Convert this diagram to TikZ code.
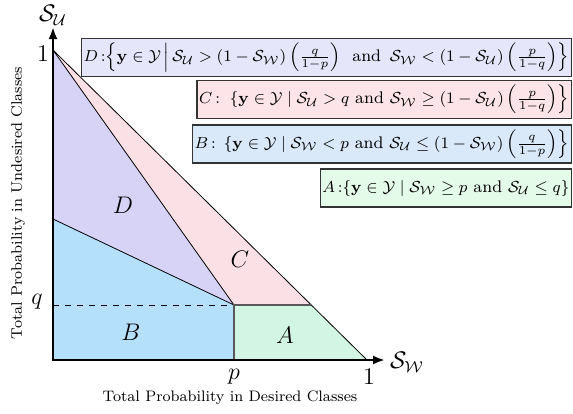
\documentclass[tikz,border=0pt]{standalone}
\usepackage{amsmath}
\usetikzlibrary{arrows.meta}
\definecolor{regD}{RGB}{214,211,247}
\definecolor{regC}{RGB}{251,224,230}
\definecolor{regB}{RGB}{180,224,252}
\definecolor{regA}{RGB}{210,245,228}
\definecolor{boxD}{RGB}{230,230,250}
\definecolor{boxC}{RGB}{252,228,232}
\definecolor{boxB}{RGB}{217,233,250}
\definecolor{boxA}{RGB}{228,251,233}
\begin{document}
\begin{tikzpicture}[x=0.5pt,y=-0.5pt,
  bound/.style={line width=0.4pt,black},
  split/.style={line width=0.8pt,black!65},
  axis/.style={line width=1.2pt,{Latex[length=6pt,width=4.5pt]}-{Latex[length=6pt,width=4.5pt]}},
  setbox/.style={draw=black!80,line width=0.7pt,inner xsep=1pt,inner ysep=0pt,minimum height=19pt,anchor=east,font=\fontsize{8.4}{10}\selectfont},
  reglabel/.style={font=\large},
  tick/.style={font=\large},
  axtitle/.style={font=\fontsize{7.6}{9}\selectfont}]
\useasboundingbox (0,0) rectangle (573,413);
\coordinate (O) at (53,360);
\coordinate (Y1) at (53,50);
\coordinate (X1) at (367,360);
\coordinate (P) at (234,360);
\coordinate (Q) at (53,305);
\coordinate (M) at (234,305);
\coordinate (K) at (53,219);
\coordinate (H) at (311,305);
\coordinate (Ytip) at (53,27);
\coordinate (Xtip) at (385,360);
\fill[regB] (O) -- (P) -- (M) -- (K) -- cycle;
\fill[regD] (K) -- (M) -- (Y1) -- cycle;
\fill[regC] (Y1) -- (M) -- (H) -- cycle;
\fill[regA] (M) -- (H) -- (X1) -- (P) -- cycle;
\draw[bound] (Y1) -- (M);
\draw[bound] (K) -- (M);
\draw[bound] (Y1) -- (X1);
\draw[dashed,line width=0.5pt] (Q) -- (M);
\draw[split] (P) -- (M) -- (H);
\draw[axis] (Ytip) -- (O) -- (Xtip);
\node[tick] (l1y) at (43,54) {$1$};
\node[tick] (lq) at (37,302) {$q$};
\node[tick] (lp) at (234,377) {$p$};
\node[tick] (l1x) at (369,377) {$1$};
\node[font=\large,inner sep=1pt] (SU) at (53,15) {$\mathcal{S}_{\mathcal{U}}$};
\node[font=\large] (SW) at (407,362) {$\mathcal{S}_{\mathcal{W}}$};
\node[axtitle] (xt) at (230,398) {Total Probability in Desired Classes};
\node[axtitle,rotate=90] (yt) at (18,203) {Total Probability in Undesired Classes};
\node[reglabel] (rD) at (123,205) {$D$};
\node[reglabel] (rC) at (240,259) {$C$};
\node[reglabel] (rB) at (131,332) {$B$};
\node[reglabel] (rA) at (285,335) {$A$};
\node[setbox,fill=boxD] (bD) at (572,57.5) {$D\,{:}\!\left\{\mathbf{y}\in\mathcal{Y}\,\middle|\,\mathcal{S}_{\mathcal{U}}>(1-\mathcal{S}_{\mathcal{W}})\left(\frac{q}{1-p}\right)\,\text{ and }\,\mathcal{S}_{\mathcal{W}}<(1-\mathcal{S}_{\mathcal{U}})\left(\frac{p}{1-q}\right)\right\}$};
\node[setbox,fill=boxC] (bC) at (572,99.5) {$C\,{:}\;\left.\{\mathbf{y}\in\mathcal{Y}\mid\mathcal{S}_{\mathcal{U}}>q\text{ and }\mathcal{S}_{\mathcal{W}}\geq(1-\mathcal{S}_{\mathcal{U}})\left(\frac{p}{1-q}\right)\right\}$};
\node[setbox,fill=boxB] (bB) at (572,144) {$B\,{:}\,\left.\{\mathbf{y}\in\mathcal{Y}\mid\mathcal{S}_{\mathcal{W}}<p\text{ and }\mathcal{S}_{\mathcal{U}}\leq(1-\mathcal{S}_{\mathcal{W}})\left(\frac{q}{1-p}\right)\right\}$};
\node[setbox,fill=boxA] (bA) at (572,188) {$A\,{:}\{\mathbf{y}\in\mathcal{Y}\mid\mathcal{S}_{\mathcal{W}}\geq p\text{ and }\mathcal{S}_{\mathcal{U}}\leq q\}$};
\end{tikzpicture}
\end{document}
